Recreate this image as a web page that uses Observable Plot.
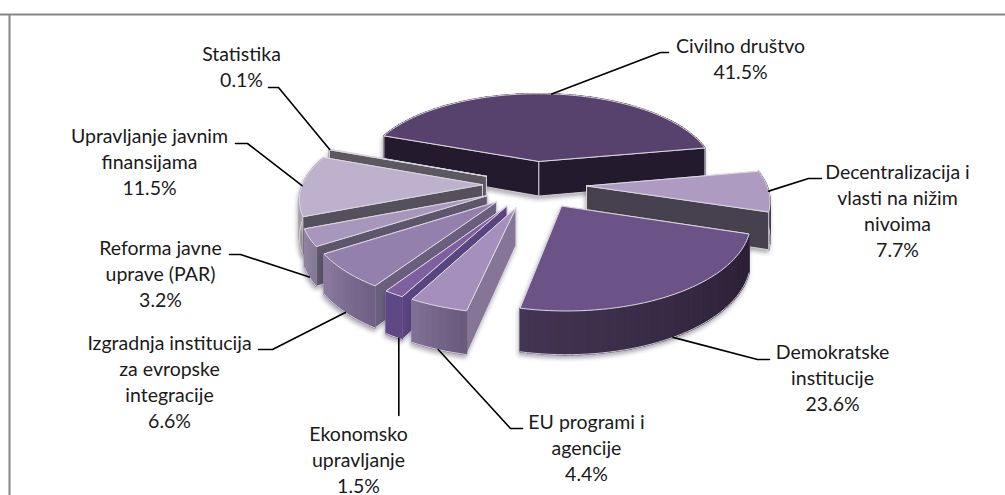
<!DOCTYPE html>
<html><head><meta charset="utf-8">
<style>html,body{margin:0;padding:0;background:#fff}svg{display:block}</style>
<script src="https://cdn.jsdelivr.net/npm/d3@7"></script>
<script src="https://cdn.jsdelivr.net/npm/@observablehq/plot@0.6"></script>
</head><body><div id="chart"></div>
<script>
const names = ["Civilno društvo","Decentralizacija i\nvlasti na nižim\nnivoima","Demokratske\ninstitucije","EU programi i\nagencije","Ekonomsko\nupravljanje","Izgradnja institucija\nza evropske\nintegracije","Reforma javne\nuprave (PAR)","Upravljanje javnim\nfinansijama","Statistika"];
const shares = [41.5,7.7,23.6,4.4,1.5,6.6,3.2,11.5,0.1];
const topColors = ["#57416d","#ad9bc2","#6b5388","#a48fbd","#7e5fa0","#9480ad","#a797bc","#bdb1cd","#8a8490"];
const wallColors = ["#241a2e","#47404e","#2f2238","#857596","#5a4580","#6b5f7e","#5e566b","#55505c","#5d5860"];
const arcStart = ["#241a2e","#47404e","#2a1f33","#6a5a7c","#5f4886","#6f6084","#857a96","#a5a0a8","#5d5860"];
const arcEnd = ["#241a2e","#47404e","#433553","#7f6f95","#5f4886","#8a7a9f","#8f83a0","#a5a0a8","#5d5860"];

// Camera and pie solid
const view = {cx:534, cy:184, tilt:.463, depth:1274, radius:180, thickness:36, explode:52, startAngle:-69.6};
const total = d3.sum(shares);
const rad = d => d*Math.PI/180;
const project = (u,v,z=0) => {
  const s = 1/(1 - v/view.depth);
  return {x:view.cx + u*s, y:view.cy + view.tilt*v*s + z*view.thickness*s};
};
let acc = view.startAngle;
const slices = shares.map((p,i) => {
  const a0 = acc, a1 = acc + 360*p/total; acc = a1;
  const mid = rad((a0+a1)/2);
  const ou = Math.sin(mid)*view.explode, ov = -Math.cos(mid)*view.explode;
  const rim = a => [ou + view.radius*Math.sin(rad(a)), ov - view.radius*Math.cos(rad(a))];
  return {i,a0,a1,ou,ov,rim};
});

function sliceFaces(sl){
  const {i,a0,a1,ou,ov,rim} = sl;
  const n = Math.max(2, Math.ceil((a1-a0)/2));
  const angs = d3.range(n+1).map(k => a0 + (a1-a0)*k/n);
  const rows = [];
  const edge = "#dcd8e2";
  const add = (id,pts,fill,stroke,sw) => { pts.forEach(p => rows.push({id,x:p.x,y:p.y,fill,stroke,sw})); };
  const wall = (a,id) => {
    const [u,v] = rim(a);
    return {id, key:(ov+v)/2, draw(){
      add(id,[project(ou,ov,0),project(u,v,0),project(u,v,1),project(ou,ov,1),project(ou,ov,0)],wallColors[i],edge,.9);
    }};
  };
  const arc = {key:d3.mean(angs, a => rim(a)[1]), draw(){
    for(let k=0;k<n;k++){
      const [u0,v0]=rim(angs[k]), [u1,v1]=rim(angs[Math.min(n,k+1)]);
      const c = d3.interpolateRgb(arcStart[i],arcEnd[i])(k/Math.max(1,n-1));
      add(`a${k}`,[project(u0,v0,0),project(u1,v1,0),project(u1,v1,1),project(u0,v0,1),project(u0,v0,0)],c,c,1.4);
    }
    const lo = angs.map(a => project(...rim(a),1));
    add("aedge",lo,"none",edge,.9);
  }};
  [wall(a0,"w0"),wall(a1,"w1"),arc].sort((p,q)=>p.key-q.key).forEach(f=>f.draw());
  const top = [project(ou,ov), ...angs.map(a=>project(...rim(a))), project(ou,ov)];
  add("top",top,topColors[i],edge,1);
  return rows;
}

// Draw order: back slices first
const drawOrder = [0,8,7,6,5,4,3,1,2];

// Labels: block centre, leader elbow, leader end, anchor on the rim
const labelX = [740,897,832,586,358,169,160,149,241];
const labelY = [57,209,376,446,458,380,272,160,65];
const elbowX = [660,808,757,510,null,272,240,247,278];
const elbowY = [52,178,359,428,415,349,254,143,87];
const endX = [668,821,769,522,null,258,229,235,268];
const anchorZ = [0,0,1,1,1,1,1,0,0];
const anchorAlong = [.5,.5,.5,.5,.2,.5,.5,.5,.5];

const labels = slices.map((sl,i) => ({
  text:`${names[i]}\n${shares[i].toFixed(1)}%`, x:labelX[i], y:labelY[i]
}));
const leaders = slices.flatMap((sl,i) => {
  const a = project(...sl.rim(sl.a0+(sl.a1-sl.a0)*anchorAlong[i]), anchorZ[i]);
  const ex = elbowX[i] ?? a.x, ey = elbowY[i];
  const pts = [a,{x:ex,y:ey}];
  if(endX[i]!=null) pts.push({x:endX[i],y:ey});
  return pts.map(p=>({id:i,x:p.x,y:p.y}));
});

const shadow = "drop-shadow(-1px 3px 2px rgba(60,50,70,.4))";
const sliceMarks = drawOrder.map(i => Plot.line(sliceFaces(slices[i]), {
  x:"x", y:"y", z:"id", fill:"fill", stroke:"stroke", strokeWidth:"sw", curve:"linear", imageFilter:shadow
}));

const fontSize = 19.5;
const plot = Plot.plot({
  width:1005, height:495, margin:0,
  x:{domain:[0,1005], range:[0,1005], axis:null},
  y:{domain:[0,495], range:[0,495], axis:null},
  color:{type:"identity"},
  marks:[
    Plot.ruleY([14],{stroke:"#868686",strokeWidth:2}),
    Plot.ruleX([9],{y1:14,y2:495,stroke:"#868686",strokeWidth:2}),
    ...sliceMarks,
    Plot.line(leaders,{x:"x",y:"y",z:"id",stroke:"#000",strokeWidth:1.6,curve:"linear"}),
    Plot.text(labels,{x:"x",y:"y",text:"text",fontFamily:"Lato",fontSize,lineHeight:26/fontSize,fill:"#1a1a1a",textAnchor:"middle"})
  ]
});
document.getElementById("chart").append(plot);
</script></body></html>
